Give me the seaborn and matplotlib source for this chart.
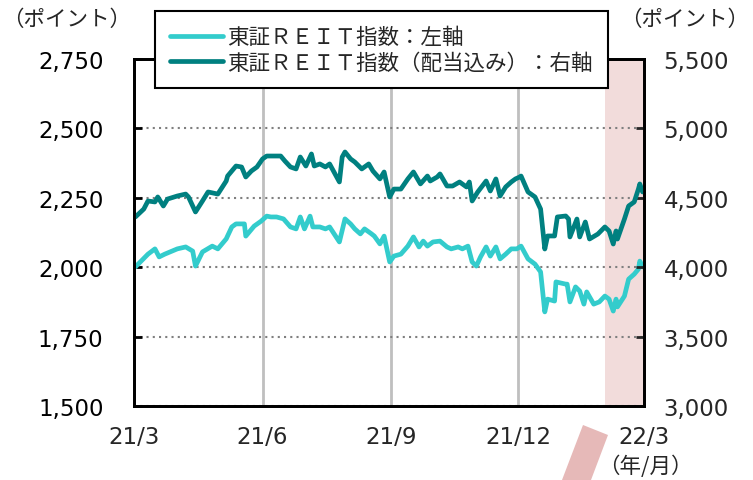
import pandas as pd
import numpy as np
import matplotlib
matplotlib.use('Agg')
import matplotlib.pyplot as plt
from matplotlib.patches import Polygon
from matplotlib.ticker import FuncFormatter
import seaborn as sns

# 東証REIT指数 (left axis)
light_dates = ['2021-03-02', '2021-03-11', '2021-03-16', '2021-03-19', '2021-03-23', '2021-04-01', '2021-04-07', '2021-04-12', '2021-04-14', '2021-04-19',
               '2021-04-26', '2021-04-30', '2021-05-06', '2021-05-10', '2021-05-13', '2021-05-19', '2021-05-20', '2021-05-26', '2021-05-31', '2021-06-04',
               '2021-06-07', '2021-06-11', '2021-06-16', '2021-06-21', '2021-06-25', '2021-06-28', '2021-07-01', '2021-07-05', '2021-07-07', '2021-07-12',
               '2021-07-16', '2021-07-19', '2021-07-26', '2021-07-27', '2021-07-30', '2021-08-03', '2021-08-06', '2021-08-10', '2021-08-13', '2021-08-18',
               '2021-08-20', '2021-08-24', '2021-08-27', '2021-08-31', '2021-09-03', '2021-09-08', '2021-09-13', '2021-09-17', '2021-09-21', '2021-09-24',
               '2021-09-27', '2021-10-01', '2021-10-06', '2021-10-11', '2021-10-14', '2021-10-19', '2021-10-22', '2021-10-26', '2021-10-29', '2021-11-01',
               '2021-11-04', '2021-11-08', '2021-11-11', '2021-11-15', '2021-11-18', '2021-11-22', '2021-11-26', '2021-11-30', '2021-12-03', '2021-12-08',
               '2021-12-13', '2021-12-17', '2021-12-20', '2021-12-22', '2021-12-27', '2021-12-28', '2022-01-04', '2022-01-05', '2022-01-07', '2022-01-11',
               '2022-01-14', '2022-01-17', '2022-01-19', '2022-01-24', '2022-01-28', '2022-02-01', '2022-02-04', '2022-02-07', '2022-02-09', '2022-02-10',
               '2022-02-15', '2022-02-18', '2022-02-22', '2022-02-25', '2022-02-26', '2022-02-28']
light_vals = [2001, 2047, 2066, 2037, 2047, 2066, 2073, 2058, 2004, 2055,
              2076, 2066, 2102, 2145, 2156, 2156, 2112, 2148, 2166, 2184,
              2181, 2181, 2174, 2145, 2138, 2181, 2138, 2184, 2145, 2145,
              2138, 2145, 2091, 2112, 2174, 2156, 2138, 2120, 2138, 2120,
              2112, 2084, 2112, 2019, 2040, 2047, 2076, 2109, 2073, 2094,
              2076, 2091, 2094, 2073, 2066, 2073, 2066, 2076, 2019, 2004,
              2037, 2073, 2040, 2073, 2030, 2047, 2066, 2066, 2076, 2030,
              2011, 1983, 1839, 1885, 1878, 1947, 1939, 1939, 1875, 1929,
              1914, 1867, 1911, 1867, 1875, 1896, 1885, 1842, 1885, 1857,
              1896, 1957, 1975, 1993, 2022, 2001]

# 東証REIT指数(配当込み) (right axis)
dark_dates = ['2021-03-02', '2021-03-08', '2021-03-11', '2021-03-16', '2021-03-18', '2021-03-22', '2021-03-25', '2021-04-01', '2021-04-07', '2021-04-09',
              '2021-04-14', '2021-04-19', '2021-04-23', '2021-04-30', '2021-05-06', '2021-05-07', '2021-05-13', '2021-05-17', '2021-05-20', '2021-05-24',
              '2021-05-28', '2021-06-01', '2021-06-04', '2021-06-07', '2021-06-14', '2021-06-17', '2021-06-21', '2021-06-25', '2021-06-28', '2021-07-02',
              '2021-07-06', '2021-07-08', '2021-07-12', '2021-07-16', '2021-07-19', '2021-07-26', '2021-07-28', '2021-07-30', '2021-08-03', '2021-08-06',
              '2021-08-11', '2021-08-16', '2021-08-19', '2021-08-24', '2021-08-27', '2021-08-31', '2021-09-03', '2021-09-08', '2021-09-13', '2021-09-17',
              '2021-09-22', '2021-09-27', '2021-09-29', '2021-10-04', '2021-10-06', '2021-10-11', '2021-10-15', '2021-10-20', '2021-10-25', '2021-10-27',
              '2021-10-29', '2021-11-02', '2021-11-08', '2021-11-11', '2021-11-15', '2021-11-18', '2021-11-22', '2021-11-26', '2021-11-29', '2021-12-02',
              '2021-12-03', '2021-12-08', '2021-12-13', '2021-12-17', '2021-12-20', '2021-12-22', '2021-12-27', '2021-12-29', '2022-01-04', '2022-01-06',
              '2022-01-07', '2022-01-12', '2022-01-14', '2022-01-18', '2022-01-21', '2022-01-27', '2022-02-01', '2022-02-04', '2022-02-07', '2022-02-09',
              '2022-02-10', '2022-02-15', '2022-02-18', '2022-02-22', '2022-02-25', '2022-02-26', '2022-02-28']
dark_vals = [4362, 4419, 4477, 4470, 4506, 4441, 4491, 4513, 4527, 4506,
             4398, 4477, 4542, 4527, 4621, 4657, 4729, 4722, 4650, 4693,
             4722, 4780, 4801, 4801, 4801, 4765, 4722, 4708, 4794, 4729,
             4816, 4729, 4744, 4722, 4744, 4614, 4794, 4830, 4780, 4758,
             4708, 4744, 4693, 4636, 4686, 4506, 4563, 4563, 4636, 4686,
             4600, 4657, 4621, 4650, 4672, 4585, 4585, 4614, 4578, 4614,
             4477, 4542, 4621, 4549, 4636, 4513, 4578, 4614, 4636, 4650,
             4657, 4542, 4506, 4419, 4131, 4225, 4225, 4362, 4369, 4347,
             4218, 4347, 4218, 4326, 4203, 4239, 4290, 4261, 4167, 4261,
             4203, 4347, 4441, 4470, 4563, 4600, 4542]

x_ticks = ['2021-03-01', '2021-06-01', '2021-09-01', '2021-12-01', '2022-03-01']
x_ticklabels = ['21/3', '21/6', '21/9', '21/12', '22/3']
shade_span = ['2022-02-01', '2022-03-01']
label_light = '東証ＲＥＩＴ指数：左軸'
label_dark = '東証ＲＥＩＴ指数（配当込み）：右軸'

light = pd.DataFrame({'date': pd.to_datetime(light_dates), 'value': light_vals})
dark = pd.DataFrame({'date': pd.to_datetime(dark_dates), 'value': dark_vals})

sns.set_style('white')
plt.rcParams['font.family'] = ['DejaVu Sans', 'Noto Sans CJK JP']
JP = 'Noto Sans CJK JP'

c_light = '#33CCCC'
c_dark = '#008080'

fig = plt.figure(figsize=(7.53, 4.81), dpi=100)
ax = fig.add_axes([134 / 753, 1 - 407 / 481, (644 - 134) / 753, (407 - 60) / 481])
ax2 = ax.twinx()

ax.axvspan(pd.Timestamp(shade_span[0]), pd.Timestamp(shade_span[1]), color='#F2DCDB', lw=0, zorder=0)

sns.lineplot(data=light, x='date', y='value', ax=ax, color=c_light, lw=3.4, label=label_light)
sns.lineplot(data=dark, x='date', y='value', ax=ax2, color=c_dark, lw=3.4, label=label_dark)

ax.set_xlim(pd.Timestamp(x_ticks[0]), pd.Timestamp(x_ticks[-1]))
ax.set_ylim(1500, 2750)
ax2.set_ylim(3000, 5500)
ax.set_yticks(np.arange(1500, 2751, 250))
ax2.set_yticks(np.arange(3000, 5501, 500))
ax.set_xticks(pd.to_datetime(x_ticks))
ax.set_xticklabels(x_ticklabels)
fmt = FuncFormatter(lambda v, p: f'{v:,.0f}')
ax.yaxis.set_major_formatter(fmt)
ax2.yaxis.set_major_formatter(fmt)
ax.set_xlabel('')
ax.set_ylabel('')
ax2.set_ylabel('')

ax.yaxis.grid(True, ls=(0, (1, 2)), color='#7F7F7F', lw=1.5)
ax.xaxis.grid(True, ls='-', color='#BFBFBF', lw=2)
ax.set_axisbelow(True)

ax.tick_params(axis='y', direction='in', length=6, width=2, pad=22, labelsize=16.5, colors='black')
ax.tick_params(axis='x', direction='in', length=4, width=2, pad=14, labelsize=16.5)
ax2.tick_params(axis='y', direction='in', length=6, width=2, pad=14, labelsize=16.5)
for a in (ax, ax2):
    for s in a.spines.values():
        s.set_color('black')
        s.set_linewidth(2)

h1, l1 = ax.get_legend_handles_labels()
h2, l2 = ax2.get_legend_handles_labels()
if ax.get_legend() is not None:
    ax.get_legend().remove()
leg = ax2.legend(h1 + h2, l1 + l2, loc='upper left', bbox_to_anchor=(155 / 753, 1 - 12 / 481),
                 bbox_transform=fig.transFigure, borderaxespad=0, frameon=True, fancybox=False,
                 prop={'family': JP, 'size': 15.5}, handlelength=2.45, handletextpad=0.2,
                 borderpad=0.7, labelspacing=0.15, framealpha=1)
leg.get_frame().set_edgecolor('black')
leg.get_frame().set_linewidth(1.5)
leg.set_zorder(10)

fig.text(67 / 753, 1 - 20 / 481, '（ポイント）', family=JP, fontsize=15.5, ha='center', va='center')
fig.text(685 / 753, 1 - 20 / 481, '（ポイント）', family=JP, fontsize=15.5, ha='center', va='center')
fig.text(645 / 753, 1 - 467 / 481, '（年/月）', family=JP, fontsize=15.5, ha='center', va='center')

# pink marker below the axis
pts = np.array([[583, 426], [608, 436], [591, 481], [562, 481]], dtype=float)
pts[:, 0] /= 753
pts[:, 1] = 1 - pts[:, 1] / 481
fig.patches.append(Polygon(pts, closed=True, transform=fig.transFigure, facecolor='#E6B9B8', edgecolor='none'))

fig.savefig('out.png', dpi=100)
